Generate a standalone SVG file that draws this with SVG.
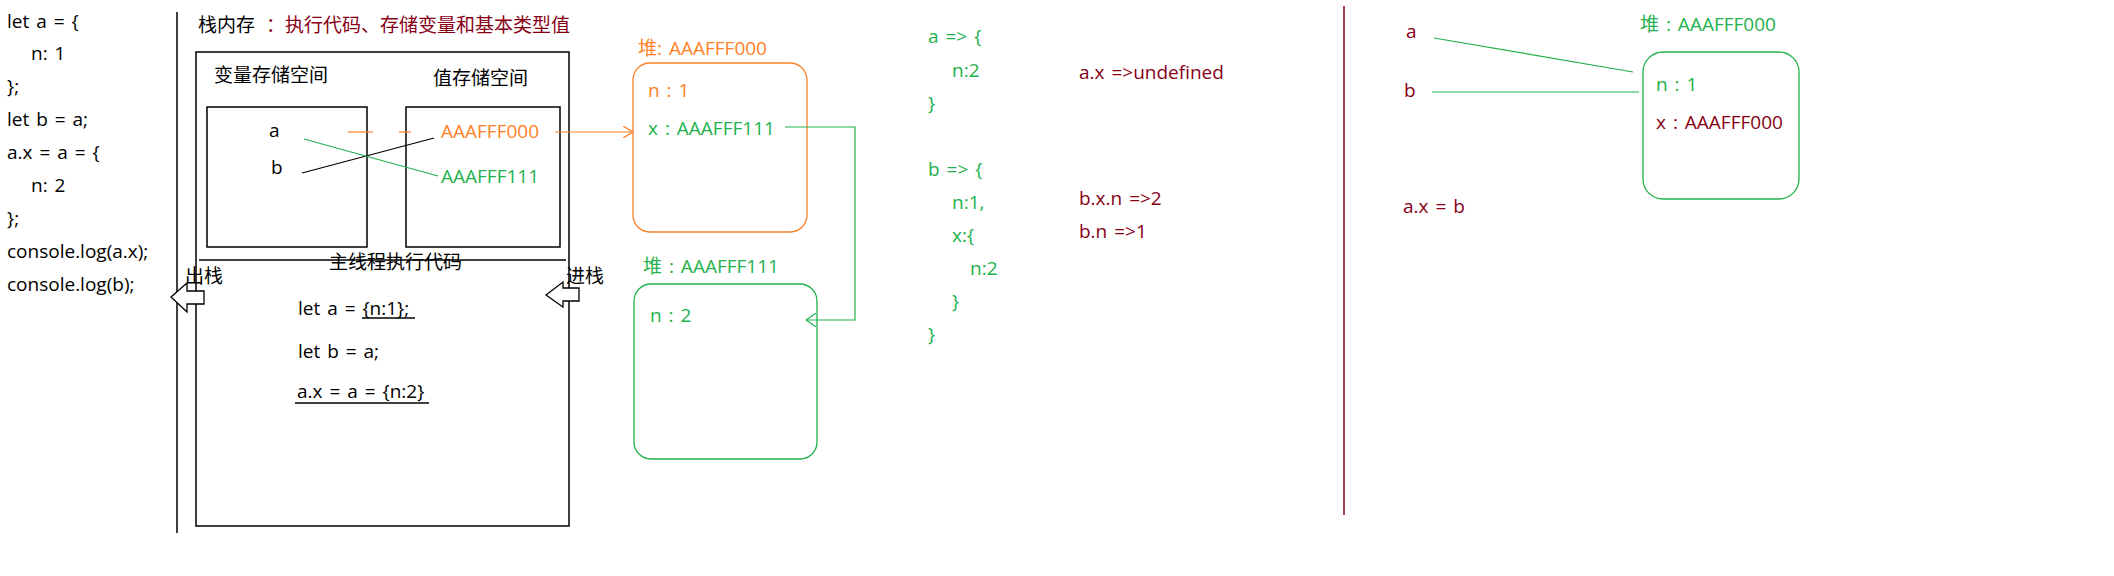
<svg xmlns="http://www.w3.org/2000/svg" width="2114" height="576" viewBox="0 0 2114 576">
<style>
text{font-family:"Open Sans","Noto Sans CJK SC",sans-serif;font-size:19px;fill:#000;word-spacing:2px}
.cn{font-family:"Noto Sans CJK SC",sans-serif;font-size:19px;word-spacing:0}
.or{fill:#FF7F27}
.gr{fill:#22B14C}
.rd{fill:#880015}
.box{fill:none;stroke:#000;stroke-width:1.5}
.ul{stroke:#000;stroke-width:1.5}
.ob{fill:none;stroke:#FF7F27;stroke-width:1.3}
.gb{fill:none;stroke:#22B14C;stroke-width:1.3}
.lo{fill:none;stroke:#FF7F27;stroke-width:1.2}
.lg{fill:none;stroke:#22B14C;stroke-width:1.2}
.lk{fill:none;stroke:#000;stroke-width:1.2}
.blk{fill:#fff;stroke:#000;stroke-width:1.3}
</style>
<defs>
<marker id="ao" viewBox="0 0 10 12" refX="10" refY="6" markerWidth="10" markerHeight="12" markerUnits="userSpaceOnUse" orient="auto"><path d="M0,0 L10,6 L0,12" fill="none" stroke="#FF7F27" stroke-width="1.2"/></marker>
<marker id="ag" viewBox="0 0 10 14" refX="10" refY="7" markerWidth="10" markerHeight="14" markerUnits="userSpaceOnUse" orient="auto"><path d="M0,0 L10,7 L0,14" fill="none" stroke="#22B14C" stroke-width="1.2"/></marker>
</defs>
<rect width="2114" height="576" fill="#fff"/>

<g id="source-code">
<text x="7" y="28">let a = {</text>
<text x="31" y="60">n: 1</text>
<text x="7" y="93">};</text>
<text x="7" y="126">let b = a;</text>
<text x="7" y="159">a.x = a = {</text>
<text x="31" y="192">n: 2</text>
<text x="7" y="225">};</text>
<text x="7" y="258">console.log(a.x);</text>
<text x="7" y="291">console.log(b);</text>
</g>

<g id="dividers">
<line x1="177" y1="12" x2="177" y2="533" stroke="#000" stroke-width="1.5"/>
<line x1="1344" y1="6" x2="1344" y2="515" stroke="#880015" stroke-width="1.5"/>
</g>

<g id="stack-memory">
<text class="cn" x="198" y="32">栈内存</text>
<text class="cn rd" x="266" y="32">：执行代码、存储变量和基本类型值</text>
<rect class="box" x="196" y="52" width="373" height="474"/>
<line class="ul" x1="199" y1="260" x2="566" y2="260"/>
</g>

<g id="variable-space">
<text class="cn" x="214" y="82">变量存储空间</text>
<rect class="box" x="207" y="107" width="160" height="140"/>
<text x="269" y="137">a</text>
<text x="271" y="174">b</text>
</g>

<g id="value-space">
<text class="cn" x="433" y="85">值存储空间</text>
<rect class="box" x="406" y="107" width="154" height="140"/>
<text class="or" x="441" y="138">AAAFFF000</text>
<text class="gr" x="441" y="183">AAAFFF111</text>
</g>

<g id="main-thread">
<text class="cn" x="329" y="269">主线程执行代码</text>
<text x="298" y="315">let a = {n:1};</text>
<line class="ul" x1="362" y1="318" x2="415" y2="318"/>
<text x="298" y="358">let b = a;</text>
<text x="297" y="398">a.x = a = {n:2}</text>
<line class="ul" x1="295" y1="403" x2="429" y2="403"/>
</g>

<g id="pop-stack">
<text class="cn" x="185" y="283">出栈</text>
<polygon class="blk" points="171,297 187,283 187,291 204,291 204,304 187,304 187,312"/>
</g>

<g id="push-stack">
<text class="cn" x="566" y="283">进栈</text>
<polygon class="blk" points="546,295 563,282 563,288 579,288 579,301 563,301 563,307"/>
</g>

<g id="heap-000">
<text class="or" x="638" y="55">堆: AAAFFF000</text>
<rect class="ob" x="633" y="63" width="174" height="169" rx="17"/>
<text class="or" x="648" y="97">n : 1</text>
<text class="gr" x="648" y="135">x : AAAFFF111</text>
</g>

<g id="heap-111">
<text class="gr" x="643" y="273">堆 : AAAFFF111</text>
<rect class="gb" x="634" y="284" width="183" height="175" rx="17"/>
<text class="gr" x="650" y="322">n : 2</text>
</g>

<g id="results">
<text class="gr" x="928" y="43">a =&gt; {</text>
<text class="gr" x="952" y="77">n:2</text>
<text class="gr" x="928" y="110">}</text>
<text class="gr" x="928" y="176">b =&gt; {</text>
<text class="gr" x="952" y="209">n:1,</text>
<text class="gr" x="952" y="242">x:{</text>
<text class="gr" x="970" y="275">n:2</text>
<text class="gr" x="952" y="308">}</text>
<text class="gr" x="928" y="341">}</text>
<text class="rd" x="1079" y="79">a.x =&gt;undefined</text>
<text class="rd" x="1079" y="205">b.x.n =&gt;2</text>
<text class="rd" x="1079" y="238">b.n =&gt;1</text>
</g>

<g id="alt-vars">
<text class="rd" x="1406" y="38">a</text>
<text class="rd" x="1404" y="97">b</text>
<text class="rd" x="1403" y="213">a.x = b</text>
</g>

<g id="alt-heap">
<text class="gr" x="1640" y="31">堆 : AAAFFF000</text>
<rect class="gb" x="1643" y="52" width="156" height="147" rx="20"/>
<text class="gr" x="1656" y="91">n : 1</text>
<text class="rd" x="1656" y="129">x : AAAFFF000</text>
</g>

<g id="connectors">
<line class="lo" x1="348" y1="132" x2="373" y2="132"/>
<line class="lo" x1="399" y1="132" x2="411" y2="132"/>
<line class="lk" x1="302" y1="173" x2="434" y2="138"/>
<line class="lg" x1="304" y1="139" x2="438" y2="176"/>
<line class="lo" x1="555" y1="132" x2="633" y2="132" marker-end="url(#ao)"/>
<polyline class="lg" points="785,127 855,127 855,320 806,320" marker-end="url(#ag)"/>
<line class="lg" x1="1434" y1="38" x2="1633" y2="72"/>
<line class="lg" x1="1432" y1="92" x2="1639" y2="92"/>
</g>
</svg>
